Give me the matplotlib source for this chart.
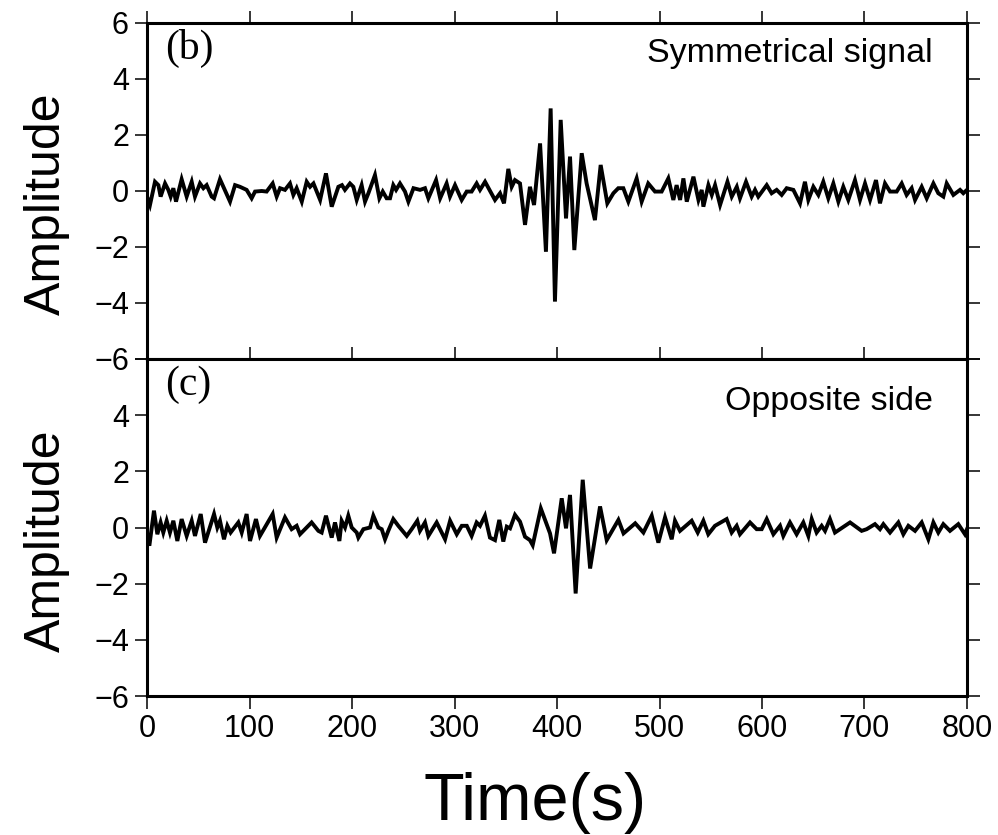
import matplotlib
matplotlib.use("Agg")
import matplotlib.pyplot as plt

# ---- Data ----
t_sym = [0, 2.9, 7.8, 11.1, 13.3, 17.6, 20.8, 23.1, 25.7, 28.3, 33.8, 38.7, 43.6, 46.8, 51.7, 55, 58.2,
         63.1, 65.4, 71.2, 81, 85.9, 90.7, 97.2, 102.1, 105.4, 111.9, 116.7, 122.6, 126.5, 129.8, 134.6,
         139.5, 142.8, 146, 151, 155.8, 159.1, 162.4, 168.9, 174.6, 180.2, 186.7, 190.2, 193.1, 198,
         201.3, 204.6, 209.4, 212.7, 216, 222.4, 226.7, 230, 233.8, 237.1, 240.3, 243, 246.8, 251.7,
         255, 260, 266.4, 271.2, 274.5, 282, 286, 292.3, 295.6, 300.5, 307, 311.9, 316.7, 321.6, 324.9,
         329.8, 339.5, 344.4, 348.3, 352.5, 355.8, 359, 363.9, 368.8, 373.6, 377.6, 383.5, 389.2,
         393.8, 398, 403.6, 408.8, 412.7, 416.9, 424.1, 428.9, 437, 442.6, 449.1, 455, 459.8, 464.7,
         469.6, 477.7, 482.6, 489, 495.6, 502.1, 508.6, 513.5, 516.7, 520.1, 523.3, 526.6, 533.1, 538,
         541.2, 542.8, 547.7, 551, 554.2, 559.1, 566.3, 570.5, 575.4, 578.5, 584.4, 589.9, 593.2,
         596.4, 604.6, 609.4, 614.3, 619.2, 624.1, 630.6, 637.1, 641.9, 645.2, 650.1, 655, 659.8,
         664.7, 669.6, 674.5, 679.3, 684.2, 690.7, 695.6, 700.5, 705.4, 711.2, 715.1, 720, 724.9,
         731.4, 736.3, 741.1, 746, 749.3, 755.8, 760.7, 767.2, 772, 776.9, 780.2, 786.7, 793.2,
         796.4, 800]
a_sym = [-0.2, -0.5, 0.33, 0.21, -0.2, 0.27, 0.04, -0.2, 0.1, -0.38, 0.42, -0.2, 0.33, -0.2, 0.27, 0.1,
         0.21, -0.2, -0.26, 0.42, -0.38, 0.21, 0.15, 0.04, -0.26, -0.02, 0.0, -0.02, 0.27, -0.2, 0.1,
         0.04, 0.27, -0.14, 0.1, -0.38, 0.33, 0.15, 0.27, -0.32, 0.63, -0.56, 0.15, 0.21, 0.04, 0.27,
         0.15, -0.32, 0.21, -0.38, -0.08, 0.57, -0.26, -0.02, -0.26, -0.26, 0.21, 0.04, 0.27, -0.02,
         -0.38, 0.1, 0.04, 0.1, -0.26, 0.39, -0.26, 0.27, -0.2, 0.21, -0.32, -0.02, -0.02, 0.27, 0.04,
         0.33, -0.32, -0.08, -0.44, 0.79, 0.15, 0.39, 0.27, -1.21, 0.15, -0.5, 1.70, -2.17,
         2.95, -3.95, 2.54, -0.98, 1.23, -2.11, 1.35, 0.27, -1.04, 0.93, -0.44, -0.08, 0.1, 0.1,
         -0.38, 0.45, -0.38, 0.27, -0.02, -0.02, 0.45, -0.32, 0.21, -0.32, 0.45, -0.38, 0.51, -0.32,
         0.04, -0.56, 0.21, -0.14, 0.21, -0.5, 0.33, -0.2, 0.15, -0.26, 0.33, -0.2, 0.04,
         -0.2, 0.21, -0.08, 0.04, -0.14, 0.1, 0.04, -0.44, 0.33, -0.32, 0.15, -0.14, 0.33,
         -0.26, 0.27, -0.38, 0.15, -0.32, 0.39, -0.32, 0.27, -0.32, 0.39, -0.44, 0.27, -0.02,
         -0.02, 0.27, -0.14, 0.1, -0.32, 0.15, -0.26, 0.27, -0.08, -0.2, 0.27, -0.14, 0.04,
         -0.08, 0.04]

t_opp = [0, 2.3, 6.8, 10.1, 13.3, 15.9, 19.2, 22.4, 25.7, 29.6, 33.8, 38.7, 43.6, 46.8, 52.4, 56.6,
         65.4, 68.6, 71.2, 75.1, 78.4, 81.6, 89.1, 92.4, 97.2, 100.5, 106.3, 110.2, 122.6, 126.5,
         134.6, 141.1, 146, 149.3, 155.8, 160.6, 167.2, 170.4, 174.6, 180.2, 183.4, 187.7, 189.9,
         193.2, 196.4, 199.7, 204.6, 206.2, 211.1, 217.6, 220.8, 225.7, 229, 232.2, 235.4, 240.3,
         245.2, 253.4, 258.2, 263.7, 266.3, 271.2, 274.5, 282.6, 290.8, 295.7, 302.2, 307.1, 312,
         316.7, 321.6, 324.9, 329.7, 334.6, 339.5, 343.7, 347.6, 351, 354.2, 359, 363.9, 368.8,
         373.6, 376.3, 384.2, 393.2, 397.1, 404.6, 408.8, 412.7, 418.2, 425.1, 432.3, 442, 448.5,
         459.9, 464.9, 476.3, 484.3, 492.4, 498.9, 505.4, 511.9, 515.1, 520, 531.4, 537.3, 542.8,
         547.6, 554.1, 565.5, 570.4, 575.3, 578.5, 588.3, 594.8, 599.7, 604.6, 611.1, 617.6, 620.8,
         627.3, 633.8, 640.3, 645.2, 648.5, 653.3, 658.2, 661.5, 666.3, 671.2, 676.1, 685.9, 697.2,
         702.1, 710.2, 715.1, 718.4, 724.9, 733, 737.9, 742.8, 749.3, 755.8, 762.3, 767.2, 772,
         776.9, 783.4, 791.5, 798, 800]
a_opp = [-0.18, -0.65, 0.6, -0.24, 0.18, -0.18, 0.24, -0.18, 0.24, -0.48, 0.3, -0.3, 0.24, -0.3, 0.48,
         -0.54, 0.48, 0.0, 0.24, -0.42, 0.06, -0.18, 0.18, -0.18, 0.48, -0.48, 0.3, -0.3, 0.48, -0.36,
         0.36, -0.06, 0.06, -0.24, 0.0, 0.18, -0.12, -0.18, 0.42, -0.36, 0.18, -0.48, 0.24,
         0.0, 0.42, 0.0, -0.18, -0.36, -0.06, 0.0, 0.42, 0.0, -0.06, -0.42, -0.12, 0.3,
         0.06, -0.3, -0.06, 0.24, -0.12, 0.18, -0.3, 0.18, -0.42, 0.24, -0.24, 0.06, 0.06,
         -0.3, 0.18, 0.06, 0.42, -0.36, -0.45, 0.27, -0.5, 0.03, -0.03, 0.45, 0.21, -0.33,
         -0.45, -0.63, 0.68, -0.21, -0.92, 1.04, -0.03, 1.16, -2.35, 1.70, -1.46, 0.75, -0.45,
         0.27, -0.21, 0.15, -0.18, 0.42, -0.54, 0.36, -0.42, 0.24, -0.12, 0.24, -0.18, 0.24,
         -0.24, 0.06, 0.3, -0.18, 0.06, -0.24, 0.18, -0.06, -0.06, 0.3, -0.24, 0.06, -0.3,
         0.18, -0.24, 0.18, -0.3, 0.3, -0.18, 0.06, -0.12, 0.3, -0.18, -0.06, 0.18, -0.12,
         -0.06, 0.12, -0.06, 0.12, -0.18, 0.18, -0.24, 0.06, -0.12, 0.18, -0.42, 0.18, -0.18,
         0.12, -0.12, 0.12, -0.24, -0.06]

panel_tags = ["(b)", "(c)"]
panel_titles = ["Symmetrical signal", "Opposite side"]
x_ticks = [0, 100, 200, 300, 400, 500, 600, 700, 800]
y_ticks = [-6, -4, -2, 0, 2, 4, 6]
y_tick_labels_top = ["\u22126", "\u22124", "\u22122", "0", "2", "4", "6"]
y_tick_labels_bot = ["\u22126", "\u22124", "\u22122", "0", "2", "4", ""]

plt.rcParams['font.family'] = ['Liberation Sans', 'DejaVu Sans']

fig = plt.figure(figsize=(9.98, 8.35), dpi=100)
W, H = 998, 835
left, right = 147 / W, 967 / W
axes_px = [(23, 359), (359, 696)]
series = [(t_sym, a_sym), (t_opp, a_opp)]
ylabels = [y_tick_labels_top, y_tick_labels_bot]
title_y = [0.91, 0.875]

for i, ((top, bot), (tt, aa)) in enumerate(zip(axes_px, series)):
    ax = fig.add_axes([left, 1 - bot / H, right - left, (bot - top) / H])
    ax.plot(tt, aa, color='black', lw=2.8, solid_joinstyle='miter')
    ax.set_xlim(0, 800)
    ax.set_ylim(-6, 6)
    ax.set_xticks(x_ticks)
    ax.set_yticks(y_ticks)
    ax.set_yticklabels(ylabels[i])
    ax.tick_params(direction='out', length=9, width=1.1, labelsize=22, pad=4,
                   top=True, right=True, bottom=True, left=True)
    for s in ax.spines.values():
        s.set_linewidth(2.2)
    if i == 0:
        ax.tick_params(labelbottom=False)
    else:
        ax.set_xticklabels([str(v) for v in x_ticks])
    ax.set_ylabel("Amplitude", fontsize=36)
    ax.yaxis.set_label_coords(-0.094, 0.462)
    ax.text(0.022, 0.925, panel_tags[i], transform=ax.transAxes, ha='left', va='center',
            fontsize=30, family=['Liberation Serif', 'DejaVu Serif'])
    ax.text(0.958, title_y[i], panel_titles[i], transform=ax.transAxes, ha='right', va='center',
            fontsize=24.5)

fig.text(535 / W, 1 - 820 / H, "Time(s)", ha='center', va='baseline', fontsize=48)

fig.savefig("out.png", dpi=100)
